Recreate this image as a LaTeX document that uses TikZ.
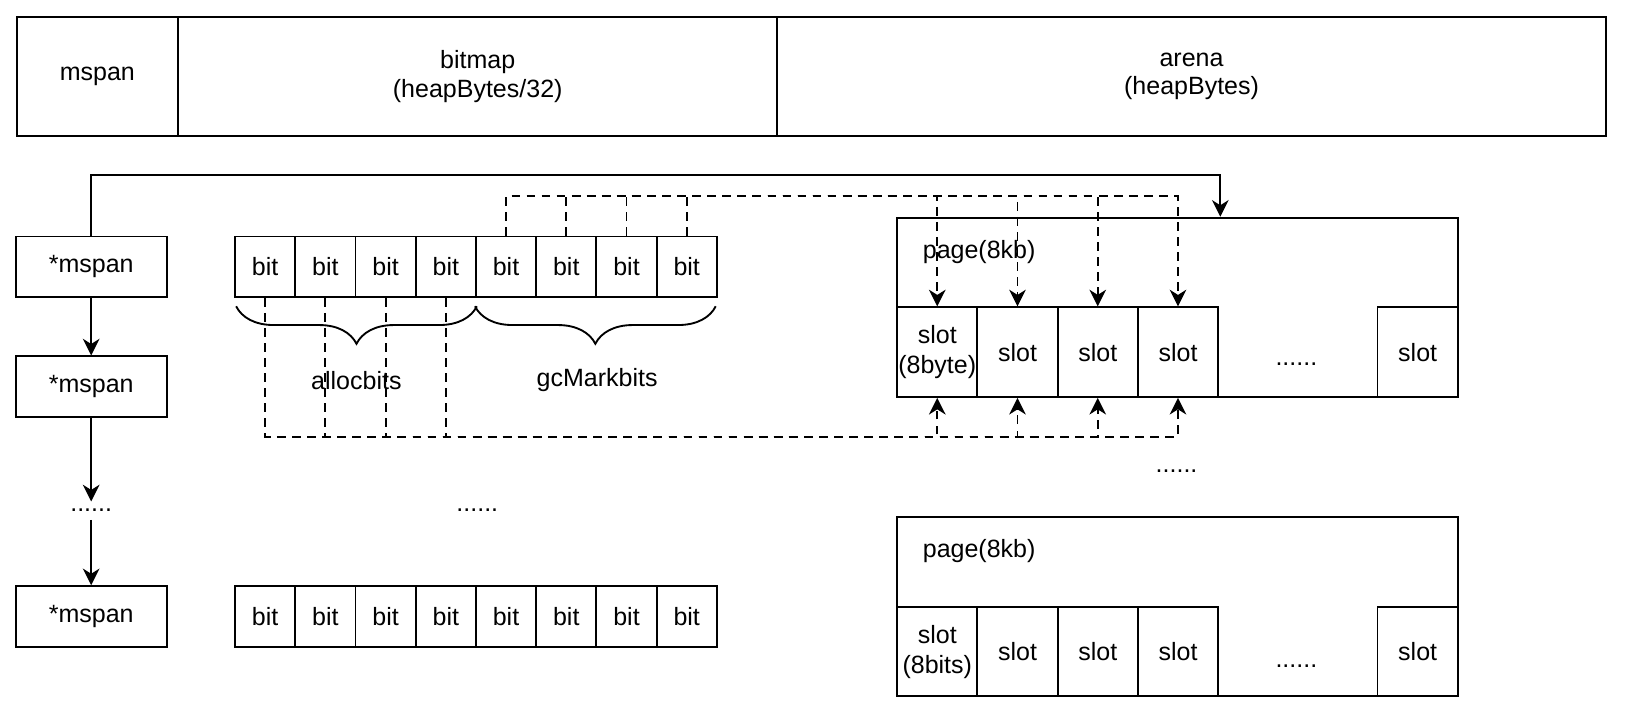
\documentclass[tikz,border=0pt]{standalone}
\usepackage{fontspec}
\setmainfont{Liberation Sans}
\usetikzlibrary{arrows.meta,decorations.pathreplacing}

\begin{document}
\begin{tikzpicture}[x=0.5pt,y=-0.5pt,line width=0.9pt,
  every node/.style={font=\fontsize{12}{14.5}\selectfont},
  cell/.style={draw,inner sep=0pt,align=center},
  headcell/.style={cell,anchor=north west,minimum height=57.5pt,font=\fontsize{12}{13.5}\selectfont},
  bitcell/.style={cell,minimum width=28.9pt,minimum height=29pt},
  spancell/.style={cell,minimum width=72.5pt,minimum height=29pt},
  slotcell/.style={cell,anchor=north west,minimum width=38.5pt,minimum height=43pt},
  pagebox/.style={cell,anchor=north west,minimum width=269pt,minimum height=86pt},
  arr/.style={-{Stealth[length=8pt,width=8pt,inset=2.5pt]}},
  dashline/.style={arr,dash pattern=on 4.2pt off 3.025pt},
  bitbrace/.style={decorate,decoration={brace,mirror,amplitude=18pt}}]
\useasboundingbox (0,0) rectangle (1568,685);

% header
\node[headcell,minimum width=77.5pt] (hspan) at (15,15) {mspan};
\node[headcell,minimum width=287.5pt] (hbitmap) at (170,15) {bitmap\\(heapBytes/32)};
\node[headcell,minimum width=397.5pt] (harena) at (745,15) {arena\\(heapBytes)};

% mspan list
\node[spancell] (m1) at (87.5,256) {*mspan};
\node[spancell] (m2) at (87.5,371) {*mspan};
\node (mdots) at (87.5,490) {......};
\node[spancell] (m4) at (87.5,591.5) {*mspan};
\draw[arr] (m1) -- (m2);
\draw[arr] (m2) -- (mdots);
\draw[arr] (mdots) -- (m4);

% bitmap rows
\foreach \i in {1,...,8}
  {\node[bitcell] (a\i) at ({225.5+57.8*(\i-0.5)},256) {bit};
   \node[bitcell] (c\i) at ({225.5+57.8*(\i-0.5)},591.5) {bit};}
\node (bdots) at (458,490) {......};
\draw[bitbrace] ([xshift=1pt,yshift=-4pt]a1.south west) -- ([yshift=-4pt]a4.south east);
\draw[bitbrace] ([yshift=-4pt]a5.south west) -- ([xshift=-1pt,yshift=-4pt]a8.south east);
\node (lalloc) at (342,365) {allocbits};
\node (lmark) at (573,365) {gcMarkbits};

% pages
\node[pagebox] (pg1) at (860,208) {};
\node[anchor=west] (pl1) at (878,242) {page(8kb)};
\node[pagebox] (pg2) at (860,495) {};
\node[anchor=west] (pl2) at (878,529) {page(8kb)};
\foreach \i/\txt in {1/slot\\(8byte),2/slot,3/slot,4/slot}
  \node[slotcell] (s\i) at ({860+77*(\i-1)},294) {\txt};
\foreach \i/\txt in {1/slot\\(8bits),2/slot,3/slot,4/slot}
  \node[slotcell] (t\i) at ({860+77*(\i-1)},581.5) {\txt};
\node[slotcell] (s5) at (1321,294) {slot};
\node[slotcell] (t5) at (1321,581.5) {slot};
\node (sdots) at (1244,349) {......};
\node (tdots) at (1244,639) {......};
\node (pdots) at (1129,452) {......};

% links
\coordinate (pgin) at (1171,208);
\draw[arr] (m1.north) -- (m1.north |- 0,168) -| (pgin);
\foreach \i in {1,...,4}
  \draw[dashline] (a\i.south) -- (a\i.south |- 0,419) -| (s\i.south);
\foreach \i/\j in {1/5,2/6,3/7,4/8}
  \draw[dashline] (a\j.north) -- (a\j.north |- 0,188) -| (s\i.north);
\end{tikzpicture}
\end{document}
